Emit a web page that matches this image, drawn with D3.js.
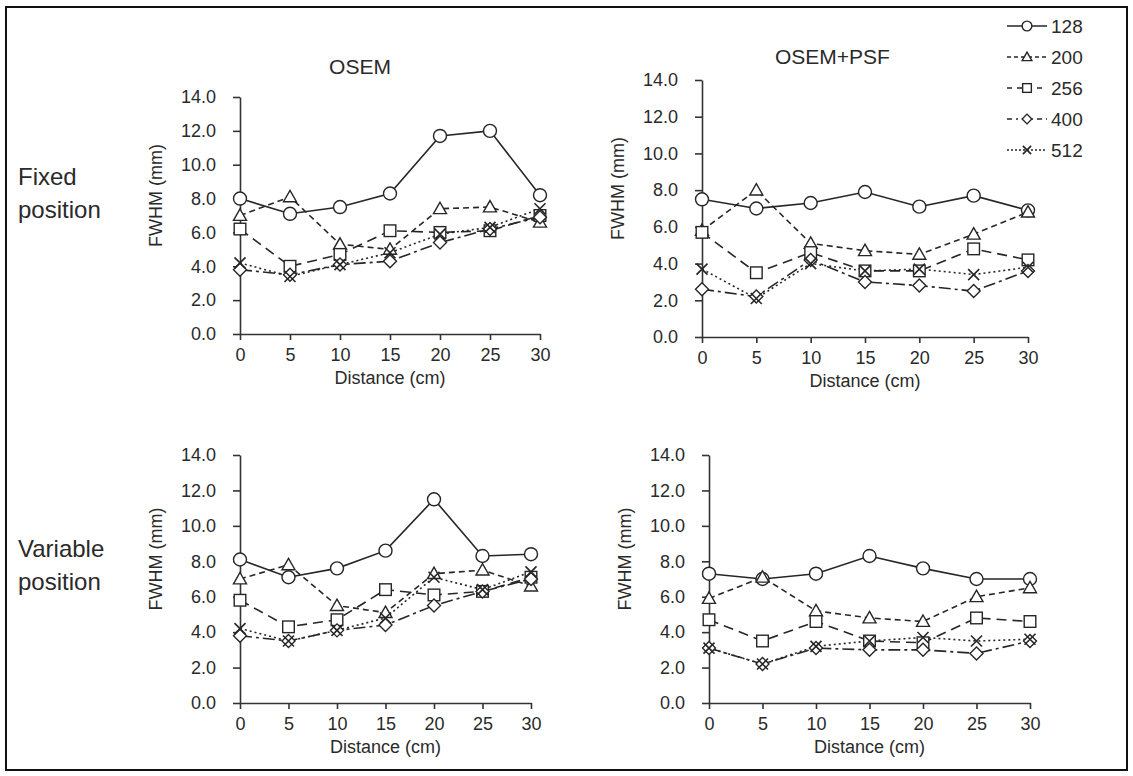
<!DOCTYPE html>
<html><head><meta charset="utf-8">
<script src="https://cdn.jsdelivr.net/npm/d3@7"></script>
<style>body{margin:0;background:#fff} svg{display:block} text{font-family:"Liberation Sans",Arial,sans-serif;fill:#2a2a2a}</style>
</head><body><svg id="c" width="1133" height="776"></svg>
<script>
// ---- data ----
const distances = [0, 5, 10, 15, 20, 25, 30];
const seriesNames = ["128", "200", "256", "400", "512"];
const yTickValues = [0, 2, 4, 6, 8, 10, 12, 14];
const xTickValues = [0, 5, 10, 15, 20, 25, 30];
const columnTitles = ["OSEM", "OSEM+PSF"];
const rowLabels = [["Fixed", "position"], ["Variable", "position"]];
const yAxisTitle = "FWHM (mm)";
const xAxisTitle = "Distance (cm)";

const osemFixed128 = [8.0, 7.1, 7.5, 8.3, 11.7, 12.0, 8.2];
const osemFixed200 = [7.0, 8.1, 5.3, 5.0, 7.4, 7.5, 6.6];
const osemFixed256 = [6.2, 4.0, 4.7, 6.1, 6.0, 6.1, 7.0];
const osemFixed400 = [3.8, 3.5, 4.1, 4.3, 5.4, 6.2, 6.9];
const osemFixed512 = [4.2, 3.4, 4.1, 4.8, 5.9, 6.3, 7.4];

const psfFixed128 = [7.5, 7.0, 7.3, 7.9, 7.1, 7.7, 6.9];
const psfFixed200 = [5.8, 8.0, 5.1, 4.7, 4.5, 5.6, 6.8];
const psfFixed256 = [5.7, 3.5, 4.6, 3.6, 3.6, 4.8, 4.2];
const psfFixed400 = [2.6, 2.2, 4.2, 3.0, 2.8, 2.5, 3.6];
const psfFixed512 = [3.7, 2.1, 4.0, 3.6, 3.7, 3.4, 3.8];

const osemVar128 = [8.1, 7.1, 7.6, 8.6, 11.5, 8.3, 8.4];
const osemVar200 = [7.0, 7.8, 5.5, 5.1, 7.3, 7.5, 6.6];
const osemVar256 = [5.8, 4.3, 4.7, 6.4, 6.1, 6.3, 7.1];
const osemVar400 = [3.8, 3.5, 4.1, 4.4, 5.5, 6.3, 7.0];
const osemVar512 = [4.2, 3.5, 4.1, 4.8, 7.1, 6.4, 7.4];

const psfVar128 = [7.3, 7.0, 7.3, 8.3, 7.6, 7.0, 7.0];
const psfVar200 = [5.9, 7.1, 5.2, 4.8, 4.6, 6.0, 6.5];
const psfVar256 = [4.7, 3.5, 4.6, 3.5, 3.4, 4.8, 4.6];
const psfVar400 = [3.1, 2.2, 3.1, 3.0, 3.0, 2.8, 3.5];
const psfVar512 = [3.1, 2.2, 3.2, 3.5, 3.7, 3.5, 3.6];

// ---- layout / styles ----
const panels = [
  {series: [osemFixed128, osemFixed200, osemFixed256, osemFixed400, osemFixed512], x0: 240, x1: 540, yb: 334, yt: 97, col: 0, row: 0, ty: 74},
  {series: [psfFixed128, psfFixed200, psfFixed256, psfFixed400, psfFixed512], x0: 702, x1: 1028, yb: 337, yt: 80, col: 1, row: 0, ty: 64},
  {series: [osemVar128, osemVar200, osemVar256, osemVar400, osemVar512], x0: 240, x1: 531, yb: 703, yt: 455, col: 0, row: 1},
  {series: [psfVar128, psfVar200, psfVar256, psfVar400, psfVar512], x0: 709, x1: 1030, yb: 703, yt: 455, col: 1, row: 1}
];
const rowLabelY = [177, 549];
const dashes = [null, "6,4", "10,6", "12,4,3,4", "2,3"];
const legendDashes = [null, "4,3", "5,5", "5,4,2,4", "2,2"];
const ink = "#262626";

function marker(g, idx, cx, cy, s) {
  const k = s || 1;
  if (idx === 0) {
    g.append("circle").attr("cx", cx).attr("cy", cy).attr("r", 6.5 * k)
      .attr("fill", "#fff").attr("stroke", ink).attr("stroke-width", 1.4);
  } else if (idx === 1) {
    const h = 6.5 * k;
    g.append("path").attr("d", `M${cx},${cy - h}L${cx + h},${cy + h * 0.75}L${cx - h},${cy + h * 0.75}Z`)
      .attr("fill", "#fff").attr("stroke", ink).attr("stroke-width", 1.4);
  } else if (idx === 2) {
    const h = 5.8 * k;
    g.append("rect").attr("x", cx - h).attr("y", cy - h).attr("width", 2 * h).attr("height", 2 * h)
      .attr("fill", "#fff").attr("stroke", ink).attr("stroke-width", 1.4);
  } else if (idx === 3) {
    const h = 6.5 * k;
    g.append("path").attr("d", `M${cx},${cy - h}L${cx + h},${cy}L${cx},${cy + h}L${cx - h},${cy}Z`)
      .attr("fill", "#fff").attr("stroke", ink).attr("stroke-width", 1.4);
  } else {
    const h = 5.5 * k;
    g.append("path").attr("d", `M${cx - h},${cy - h}L${cx + h},${cy + h}M${cx + h},${cy - h}L${cx - h},${cy + h}`)
      .attr("fill", "none").attr("stroke", ink).attr("stroke-width", 1.6);
  }
}

const svg = d3.select("#c");
svg.append("rect").attr("x", 6).attr("y", 7).attr("width", 1121).attr("height", 763)
  .attr("fill", "none").attr("stroke", "#111").attr("stroke-width", 2);

panels.forEach(p => {
  const x = d3.scaleLinear().domain([0, 30]).range([p.x0, p.x1]);
  const y = d3.scaleLinear().domain([0, 14]).range([p.yb, p.yt]);
  const g = svg.append("g");

  const ya = g.append("g").attr("transform", `translate(${p.x0},0)`)
    .call(d3.axisLeft(y).tickValues(yTickValues).tickFormat(d3.format(".1f")).tickSizeInner(7).tickSizeOuter(0).tickPadding(17));
  const xa = g.append("g").attr("transform", `translate(0,${p.yb})`)
    .call(d3.axisBottom(x).tickValues(xTickValues).tickSizeInner(6).tickSizeOuter(0).tickPadding(8));
  [ya, xa].forEach(a => {
    a.selectAll("path,line").attr("stroke", "#333").attr("stroke-width", 1.6);
    a.selectAll("text").attr("font-size", 18).attr("fill", "#2a2a2a")
      .attr("font-family", "'Liberation Sans', Arial, sans-serif");
  });

  g.append("text").attr("transform", `translate(${p.x0 - 78},${(p.yt + p.yb) / 2 - 20}) rotate(-90)`)
    .attr("text-anchor", "middle").attr("font-size", 18).text(yAxisTitle);
  g.append("text").attr("x", (p.x0 + p.x1) / 2).attr("y", p.yb + 50)
    .attr("text-anchor", "middle").attr("font-size", 18).text(xAxisTitle);

  const line = d3.line().x((d, i) => x(distances[i])).y(d => y(d));
  p.series.forEach((vals, si) => {
    g.append("path").datum(vals).attr("d", line).attr("fill", "none")
      .attr("stroke", ink).attr("stroke-width", 1.6)
      .attr("stroke-dasharray", dashes[si]);
  });
  p.series.forEach((vals, si) => {
    vals.forEach((v, i) => marker(g, si, x(distances[i]), y(v)));
  });

  if (p.row === 0) {
    svg.append("text").attr("x", p.x0 + (p.x1 - p.x0) * 0.4).attr("y", p.ty)
      .attr("text-anchor", "middle").attr("font-size", 21).text(columnTitles[p.col]);
  }
  if (p.col === 0) {
    const lbl = rowLabels[p.row];
    lbl.forEach((t, k) => svg.append("text").attr("x", 18).attr("y", rowLabelY[p.row] + 8 + k * 33)
      .attr("font-size", 24).text(t));
  }
});

// legend
const lg = svg.append("g");
seriesNames.forEach((name, i) => {
  const cy = 26 + i * 31;
  lg.append("line").attr("x1", 1007).attr("x2", 1047).attr("y1", cy).attr("y2", cy)
    .attr("stroke", ink).attr("stroke-width", 1.5).attr("stroke-dasharray", legendDashes[i]);
  marker(lg, i, 1027, cy, 0.75);
  lg.append("text").attr("x", 1051).attr("y", cy + 7).attr("font-size", 19).text(name);
});
</script></body></html>
